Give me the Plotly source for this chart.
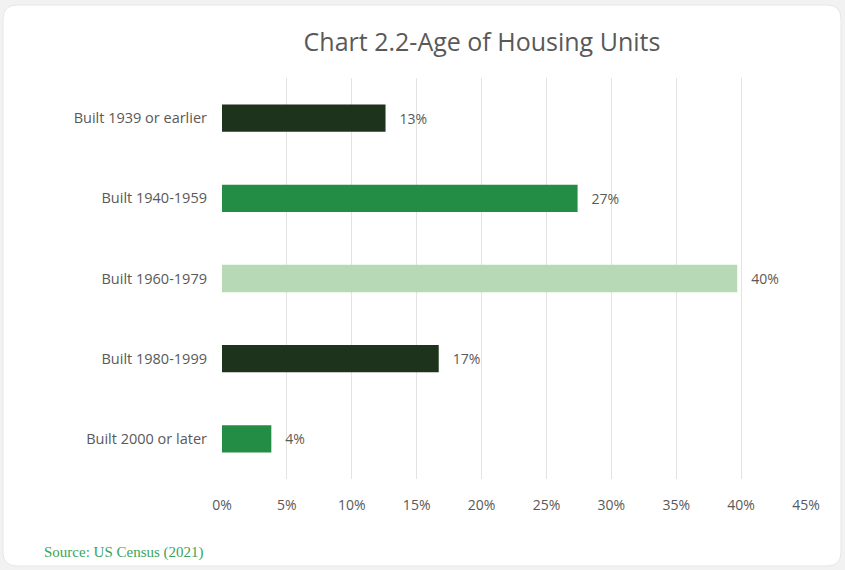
import plotly.graph_objects as go

categories = ["Built 1939 or earlier", "Built 1940-1959", "Built 1960-1979", "Built 1980-1999", "Built 2000 or later"]
values = [0.126, 0.274, 0.397, 0.167, 0.038]
bar_colors = ["#1d331b", "#238c45", "#b8d9b6", "#1d331b", "#238c45"]
tick_vals = [0, 0.05, 0.10, 0.15, 0.20, 0.25, 0.30, 0.35, 0.40, 0.45]
tick_text = ["0%", "5%", "10%", "15%", "20%", "25%", "30%", "35%", "40%", "45%"]

W, H = 845, 570
L, R, T, B = 222, 39, 78, 91
pw, ph = W - L - R, H - T - B

def px(x):
    return (x - L) / pw

def py(y):
    return (H - B - y) / ph

def rounded_path(x0, y0, x1, y1, r):
    pts = [
        f"M {px(x0 + r)} {py(y0)}",
        f"L {px(x1 - r)} {py(y0)}",
        f"Q {px(x1)} {py(y0)} {px(x1)} {py(y0 + r)}",
        f"L {px(x1)} {py(y1 - r)}",
        f"Q {px(x1)} {py(y1)} {px(x1 - r)} {py(y1)}",
        f"L {px(x0 + r)} {py(y1)}",
        f"Q {px(x0)} {py(y1)} {px(x0)} {py(y1 - r)}",
        f"L {px(x0)} {py(y0 + r)}",
        f"Q {px(x0)} {py(y0)} {px(x0 + r)} {py(y0)}",
        "Z",
    ]
    return " ".join(pts)

fig = go.Figure(go.Bar(
    x=values,
    y=categories,
    orientation="h",
    marker=dict(color=bar_colors, line=dict(width=0)),
    text=values,
    texttemplate="   %{x:.0%}",
    textposition="outside",
    textfont=dict(family="Open Sans", size=14, color="#595959"),
    cliponaxis=False,
    width=0.34,
))

fig.update_layout(
    width=W, height=H,
    margin=dict(l=L, r=R, t=T, b=B),
    paper_bgcolor="#f2f2f2",
    plot_bgcolor="rgba(0,0,0,0)",
    showlegend=False,
    title=dict(
        text="Chart 2.2-Age of Housing Units",
        x=482 / W, xanchor="center",
        y=1 - 42 / H, yanchor="middle",
        font=dict(family="Open Sans", size=25, color="#595959"),
    ),
    xaxis=dict(
        range=[0, 0.45],
        tickvals=tick_vals,
        ticktext=tick_text,
        showgrid=True,
        gridcolor="#e3e3e3",
        gridwidth=1,
        zeroline=False,
        showline=False,
        ticks="",
        ticklabelstandoff=16,
        tickfont=dict(family="Open Sans", size=14, color="#595959"),
    ),
    yaxis=dict(
        autorange="reversed",
        showgrid=False,
        zeroline=False,
        showline=False,
        ticks="",
        ticklabelstandoff=14,
        tickfont=dict(family="Open Sans", size=14.5, color="#595959"),
    ),
    shapes=[dict(
        type="path",
        xref="paper", yref="paper",
        path=rounded_path(3, 5, 841, 566, 14),
        fillcolor="white",
        line=dict(color="#e6e6e6", width=1),
        layer="below",
    )],
    annotations=[dict(
        text="Source: US Census (2021)",
        xref="paper", yref="paper",
        x=px(42), y=py(552),
        xanchor="left", yanchor="middle",
        showarrow=False,
        font=dict(family="Liberation Serif", size=15, color="#3ba35b"),
    )],
)

fig.write_html(
    "out.html",
    config={"displayModeBar": False},
    post_script="document.body.style.margin='0';document.body.style.overflow='hidden';",
)
